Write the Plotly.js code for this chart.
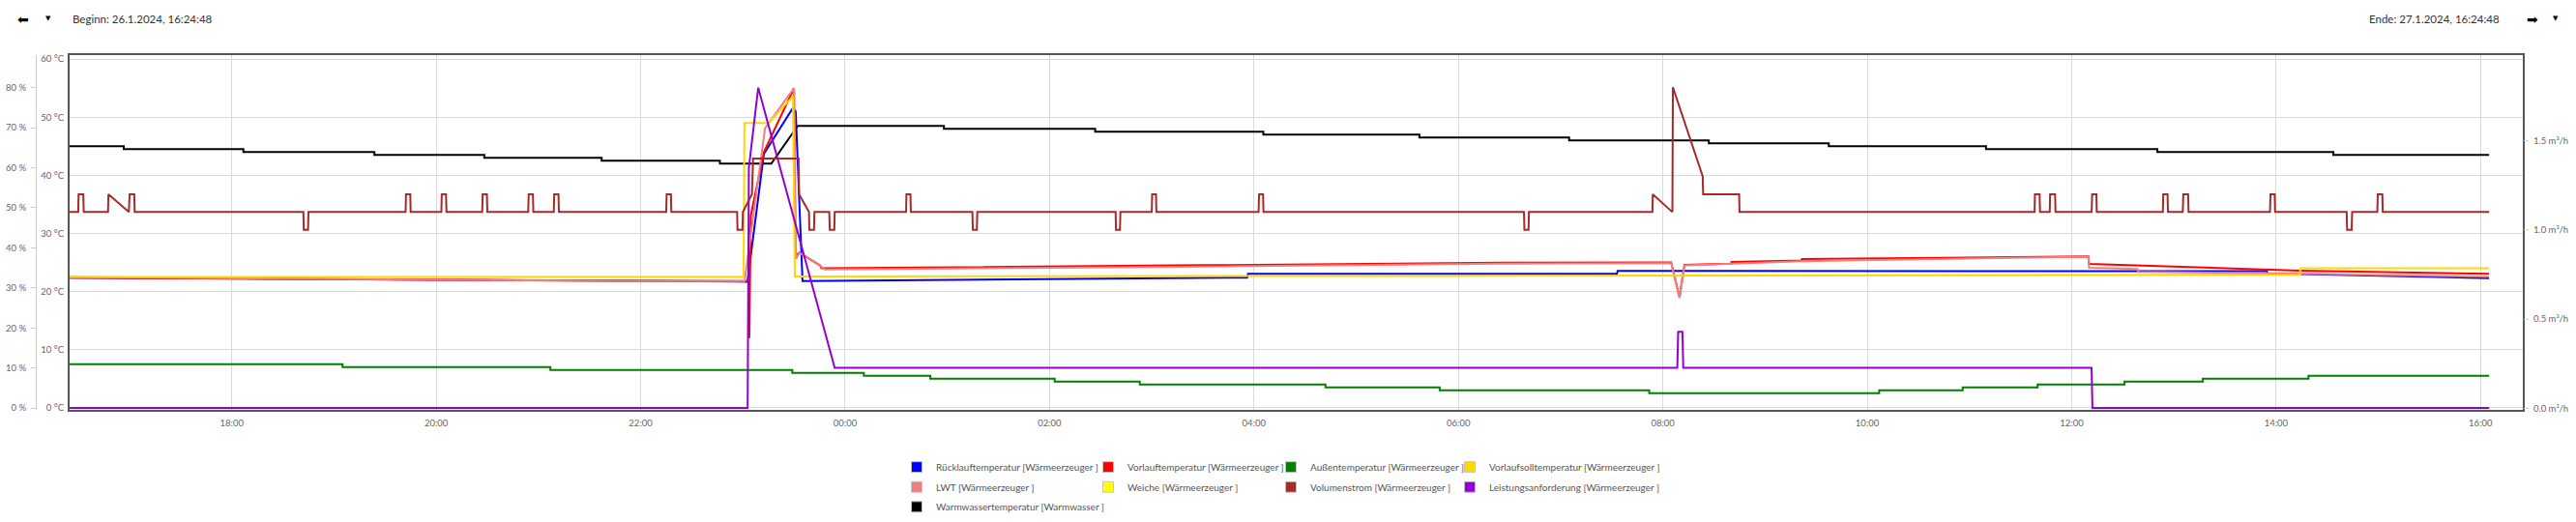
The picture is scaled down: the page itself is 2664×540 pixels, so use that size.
<!DOCTYPE html>
<html><head><meta charset="utf-8">
<script src="https://cdn.plot.ly/plotly-3.0.1.min.js"></script>
<style>html,body{margin:0;padding:0;background:#fff}#chart{width:2664px;height:540px}</style>
</head><body><div id="chart"></div>
<script>
// ---- time window and labels ----
const rangeStart = '2024-01-26 16:24:48';
const rangeEnd = '2024-01-27 16:24:48';
const beginLabel = 'Beginn: 26.1.2024, 16:24:48';
const endLabel = 'Ende: 27.1.2024, 16:24:48';

// ---- series names and colours ----
const nameRueck = 'Rücklauftemperatur [Wärmeerzeuger ]';
const nameVorlauf = 'Vorlauftemperatur [Wärmeerzeuger ]';
const nameAussen = 'Außentemperatur [Wärmeerzeuger ]';
const nameSoll = 'Vorlaufsolltemperatur [Wärmeerzeuger ]';
const nameLWT = 'LWT [Wärmeerzeuger ]';
const nameWeiche = 'Weiche [Wärmeerzeuger ]';
const nameVolumen = 'Volumenstrom [Wärmeerzeuger ]';
const nameLeistung = 'Leistungsanforderung [Wärmeerzeuger ]';
const nameWarmwasser = 'Warmwassertemperatur [Warmwasser ]';

const colorOf = {};
colorOf[nameRueck] = '#0000FF';
colorOf[nameVorlauf] = '#FF0000';
colorOf[nameAussen] = '#008000';
colorOf[nameSoll] = '#FFD700';
colorOf[nameLWT] = '#F08080';
colorOf[nameWeiche] = '#FFFF00';
colorOf[nameVolumen] = '#A52A2A';
colorOf[nameLeistung] = '#9400D3';
colorOf[nameWarmwasser] = '#000000';

// legend columns (as laid out in the reference)
const legendColumns = [
  [nameRueck, nameLWT, nameWarmwasser],
  [nameVorlauf, nameWeiche],
  [nameAussen, nameVolumen],
  [nameSoll, nameLeistung]
];

// ---- data: [day hh:mm:ss, value] ----
const ruecklauf = [
  ['26 16:24:48', 22.4], ['26 20:00:00', 22.0], ['26 23:02:40', 21.7],
  ['26 23:12:20', 43.7], ['26 23:29:20', 51.6], ['26 23:31:00', 51.0],
  ['26 23:35:00', 21.8], ['27 03:56:00', 22.4], ['27 03:56:30', 23.05],
  ['27 07:33:00', 23.05], ['27 07:33:30', 23.55], ['27 13:54:30', 23.5],
  ['27 13:55:00', 23.15], ['27 16:05:00', 22.3]
];
const vorlauf = [
  ['26 16:24:48', 22.4], ['26 20:00:00', 22.0], ['26 23:03:20', 21.8],
  ['26 23:03:48', 12.0], ['26 23:04:36', 33.0], ['26 23:12:20', 44.0],
  ['26 23:30:00', 55.0], ['26 23:30:50', 26.1], ['26 23:33:06', 26.7],
  ['26 23:45:15', 24.5], ['26 23:46:10', 24.0], ['27 03:00:00', 24.5],
  ['27 06:24:00', 24.95], ['27 08:04:54', 25.0], ['27 08:09:48', 19.0],
  ['27 08:12:40', 24.6], ['27 08:40:00', 24.8], ['27 08:40:20', 25.1],
  ['27 09:21:20', 25.35], ['27 09:21:40', 25.6], ['27 12:09:50', 26.05],
  ['27 12:10:10', 24.75], ['27 14:14:00', 23.6], ['27 16:05:00', 23.05]
];
const lwt = [
  ['26 16:24:48', 22.5], ['26 18:00:00', 22.3], ['26 20:00:00', 22.0],
  ['26 22:00:00', 21.8], ['26 23:01:00', 21.8], ['26 23:13:00', 48.1],
  ['26 23:30:00', 55.0], ['26 23:31:12', 25.6], ['26 23:33:06', 26.7],
  ['26 23:45:15', 24.5], ['26 23:48:00', 23.8], ['27 03:00:00', 24.2],
  ['27 06:24:00', 24.8], ['27 08:04:54', 24.9], ['27 08:09:48', 18.9],
  ['27 08:12:40', 24.5], ['27 09:21:30', 25.2], ['27 12:09:50', 26.0],
  ['27 12:10:10', 24.1], ['27 12:38:40', 23.9], ['27 12:39:00', 23.4],
  ['27 14:14:00', 23.1], ['27 16:05:00', 22.55]
];
const vorlaufsoll = [
  ['26 16:24:48', 22.5], ['26 23:00:24', 22.5], ['26 23:00:54', 49.0],
  ['26 23:15:06', 49.0], ['26 23:29:20', 53.6], ['26 23:30:30', 22.6],
  ['27 06:00:00', 22.7], ['27 14:14:00', 22.9], ['27 14:14:20', 24.0],
  ['27 16:05:00', 24.0]
];
const weiche = [];
const aussen = [ // step values
  ['26 16:24:48', 7.5], ['26 19:05:00', 7.0], ['26 21:07:00', 6.5],
  ['26 23:29:00', 6.0], ['27 00:11:00', 5.5], ['27 00:50:00', 5.0],
  ['27 02:03:00', 4.5], ['27 02:53:00', 4.0], ['27 04:42:00', 3.5],
  ['27 05:49:00', 3.0], ['27 07:52:00', 2.5], ['27 10:07:00', 3.0],
  ['27 10:56:00', 3.5], ['27 11:40:00', 4.0], ['27 12:31:00', 4.5],
  ['27 13:17:00', 5.0], ['27 14:19:00', 5.5], ['27 16:05:00', 5.5]
];
const warmwasser = [
  ['26 16:24:48', 45.0], ['26 16:56:36', 45.0], ['26 16:56:36', 44.5],
  ['26 18:06:48', 44.5], ['26 18:06:48', 44.0], ['26 19:23:42', 44.0],
  ['26 19:23:42', 43.5], ['26 20:28:12', 43.5], ['26 20:28:12', 43.0],
  ['26 21:37:06', 43.0], ['26 21:37:06', 42.5], ['26 22:46:30', 42.5],
  ['26 22:46:30', 42.0], ['26 23:16:40', 42.0], ['26 23:32:12', 48.5],
  ['27 00:58:00', 48.5], ['27 00:58:00', 48.0], ['27 02:26:48', 48.0],
  ['27 02:26:48', 47.5], ['27 04:05:30', 47.5], ['27 04:05:30', 47.0],
  ['27 05:37:06', 47.0], ['27 05:37:06', 46.5], ['27 07:05:00', 46.5],
  ['27 07:05:00', 46.0], ['27 08:27:00', 46.0], ['27 08:27:00', 45.5],
  ['27 09:37:24', 45.5], ['27 09:37:24', 45.0], ['27 11:09:42', 45.0],
  ['27 11:09:42', 44.5], ['27 12:50:18', 44.5], ['27 12:50:18', 44.0],
  ['27 14:33:36', 44.0], ['27 14:33:36', 43.5], ['27 16:05:00', 43.5]
];
const leistung = [
  ['26 16:24:48', 0], ['26 23:02:48', 0], ['26 23:03:30', 60],
  ['26 23:09:00', 80], ['26 23:53:54', 10], ['27 08:08:30', 10],
  ['27 08:09:00', 19], ['27 08:11:30', 19], ['27 08:12:00', 10],
  ['27 12:11:40', 10], ['27 12:12:10', 0], ['27 16:05:00', 0]
];
const volumenstrom = [
  ['26 16:24:48', 1.1],
  ['26 16:29:50', 1.1], ['26 16:30:05', 1.2], ['26 16:32:50', 1.2], ['26 16:33:05', 1.1],
  ['26 16:47:20', 1.1], ['26 16:47:35', 1.2], ['26 16:59:35', 1.1], ['26 17:00:00', 1.2], ['26 17:02:45', 1.2], ['26 17:03:00', 1.1],
  ['26 18:42:00', 1.1], ['26 18:42:15', 1.0], ['26 18:44:45', 1.0], ['26 18:45:00', 1.1],
  ['26 19:42:00', 1.1], ['26 19:42:15', 1.2], ['26 19:44:45', 1.2], ['26 19:45:00', 1.1],
  ['26 20:03:00', 1.1], ['26 20:03:15', 1.2], ['26 20:05:45', 1.2], ['26 20:06:00', 1.1],
  ['26 20:27:00', 1.1], ['26 20:27:15', 1.2], ['26 20:29:45', 1.2], ['26 20:30:00', 1.1],
  ['26 20:54:00', 1.1], ['26 20:54:15', 1.2], ['26 20:56:45', 1.2], ['26 20:57:00', 1.1],
  ['26 21:09:00', 1.1], ['26 21:09:15', 1.2], ['26 21:11:45', 1.2], ['26 21:12:00', 1.1],
  ['26 22:15:00', 1.1], ['26 22:15:15', 1.2], ['26 22:17:45', 1.2], ['26 22:18:00', 1.1],
  ['26 22:56:36', 1.1], ['26 22:56:50', 1.0], ['26 22:59:45', 1.0], ['26 23:00:00', 1.1],
  ['26 23:05:18', 1.2], ['26 23:06:00', 1.4], ['26 23:32:42', 1.4], ['26 23:33:00', 1.2],
  ['26 23:38:48', 1.1], ['26 23:39:00', 1.0], ['26 23:41:45', 1.0], ['26 23:42:00', 1.1],
  ['26 23:50:42', 1.1], ['26 23:51:00', 1.0], ['26 23:53:40', 1.0], ['26 23:53:54', 1.1],
  ['27 00:35:48', 1.1], ['27 00:36:00', 1.2], ['27 00:38:20', 1.2], ['27 00:38:36', 1.1],
  ['27 01:14:42', 1.1], ['27 01:15:00', 1.0], ['27 01:17:20', 1.0], ['27 01:17:36', 1.1],
  ['27 02:38:48', 1.1], ['27 02:39:00', 1.0], ['27 02:41:20', 1.0], ['27 02:41:36', 1.1],
  ['27 03:00:00', 1.1], ['27 03:00:15', 1.2], ['27 03:02:30', 1.2], ['27 03:02:42', 1.1],
  ['27 04:02:42', 1.1], ['27 04:03:00', 1.2], ['27 04:05:20', 1.2], ['27 04:05:36', 1.1],
  ['27 06:38:30', 1.1], ['27 06:38:45', 1.0], ['27 06:41:10', 1.0], ['27 06:41:24', 1.1],
  ['27 07:53:54', 1.1], ['27 07:54:06', 1.2], ['27 08:05:36', 1.1], ['27 08:05:54', 1.8],
  ['27 08:23:24', 1.3], ['27 08:23:40', 1.2], ['27 08:44:48', 1.2], ['27 08:45:00', 1.1],
  ['27 11:38:12', 1.1], ['27 11:38:25', 1.2], ['27 11:41:10', 1.2], ['27 11:41:24', 1.1],
  ['27 11:47:06', 1.1], ['27 11:47:20', 1.2], ['27 11:50:15', 1.2], ['27 11:50:30', 1.1],
  ['27 12:11:42', 1.1], ['27 12:12:00', 1.2], ['27 12:14:30', 1.2], ['27 12:14:42', 1.1],
  ['27 12:53:30', 1.1], ['27 12:53:45', 1.2], ['27 12:56:15', 1.2], ['27 12:56:30', 1.1],
  ['27 13:05:12', 1.1], ['27 13:05:30', 1.2], ['27 13:08:20', 1.2], ['27 13:08:36', 1.1],
  ['27 13:56:24', 1.1], ['27 13:56:40', 1.2], ['27 13:59:10', 1.2], ['27 13:59:24', 1.1],
  ['27 14:41:24', 1.1], ['27 14:41:40', 1.0], ['27 14:44:20', 1.0], ['27 14:44:36', 1.1],
  ['27 14:59:24', 1.1], ['27 14:59:40', 1.2], ['27 15:02:20', 1.2], ['27 15:02:36', 1.1],
  ['27 16:05:00', 1.1]
];

// ---- axis tick settings ----
const tempTickSuffix = ' °C';
const pctTickSuffix = ' %';
const flowTickSuffix = ' m³/h';

// ---- build traces ----
const toX = pairs => pairs.map(p => '2024-01-' + p[0]);
const toY = pairs => pairs.map(p => p[1]);
function line(name, pairs, axis, shape) {
  return {
    type: 'scatter', mode: 'lines', name: name,
    x: toX(pairs), y: toY(pairs), yaxis: axis,
    line: {color: colorOf[name], width: 2, shape: shape || 'linear'},
    showlegend: false, hoverinfo: 'skip'
  };
}
const traces = [
  line(nameWarmwasser, warmwasser, 'y'),
  line(nameVolumen, volumenstrom, 'y3'),
  line(nameAussen, aussen, 'y', 'hv'),
  line(nameWeiche, weiche, 'y'),
  line(nameRueck, ruecklauf, 'y'),
  line(nameVorlauf, vorlauf, 'y'),
  line(nameLWT, lwt, 'y'),
  line(nameSoll, vorlaufsoll, 'y'),
  line(nameLeistung, leistung, 'y2')
];
const legendIds = ['legend', 'legend2', 'legend3', 'legend4'];
legendColumns.forEach((col, ci) => {
  col.forEach(name => {
    traces.push({
      type: 'scatter', mode: 'markers', name: name,
      x: [null], y: [null], legend: legendIds[ci], legendgroup: name,
      marker: {symbol: 'square', size: 11, color: colorOf[name], line: {color: '#c4c4c4', width: 1}},
      showlegend: true, hoverinfo: 'skip'
    });
  });
});

const W = 2664, H = 540, plotL = 72, plotR = 2609, plotT = 57, plotB = 427;
const px2x = px => px / W;
const py2y = py => (plotB - py) / (plotB - plotT);

const font = 'Lato, "Open Sans", "DejaVu Sans", sans-serif';
const legendBase = {
  orientation: 'v', xanchor: 'left', yanchor: 'top', y: py2y(472),
  bgcolor: 'rgba(0,0,0,0)', borderwidth: 0, tracegroupgap: 1.6,
  font: {family: font, size: 10, color: '#555'}
};
const legendBoxX = [928, 1126, 1315, 1500];

const layout = {
  width: W, height: H,
  margin: {l: 0, r: 0, t: plotT, b: H - plotB, pad: 0},
  paper_bgcolor: '#ffffff', plot_bgcolor: '#ffffff',
  font: {family: font, size: 10, color: '#666'},
  xaxis: {
    type: 'date', domain: [plotL / W, plotR / W],
    range: [rangeStart, rangeEnd],
    tick0: '2024-01-26 00:00:00', dtick: 2 * 3600 * 1000, tickformat: '%H:%M',
    showgrid: true, gridcolor: '#d9d9d9', gridwidth: 1,
    showline: true, mirror: true, linecolor: '#555', linewidth: 2,
    ticks: '', ticklabelstandoff: 4, zeroline: false,
    tickfont: {family: font, size: 9.5, color: '#666'}
  },
  yaxis: {
    range: [-0.36, 60.69], dtick: 10, tick0: 0, ticksuffix: tempTickSuffix,
    showgrid: true, gridcolor: '#d9d9d9', gridwidth: 1, zeroline: false,
    showline: true, mirror: true, linecolor: '#555', linewidth: 2,
    ticks: '', ticklabelstandoff: 2,
    tickfont: {family: font, size: 9.5, color: '#666'}
  },
  yaxis2: {
    overlaying: 'y', anchor: 'free', position: 37 / W, side: 'left',
    range: [-0.48, 88.14], dtick: 10, tick0: 0, ticksuffix: pctTickSuffix,
    showgrid: false, zeroline: false,
    showline: true, linecolor: '#cccccc', linewidth: 1,
    ticks: 'outside', ticklen: 5, tickcolor: '#cccccc', ticklabelstandoff: 3,
    tickfont: {family: font, size: 9.5, color: '#666'}
  },
  yaxis3: {
    overlaying: 'y', anchor: 'x', side: 'right',
    range: [-0.009, 1.980], dtick: 0.5, tick0: 0, tickformat: '.1f', ticksuffix: flowTickSuffix,
    showgrid: false, zeroline: false, showline: false,
    ticks: 'outside', ticklen: 5, tickcolor: '#cccccc', ticklabelstandoff: 3,
    tickfont: {family: font, size: 9.5, color: '#666'}
  },
  annotations: [
    {xref: 'paper', yref: 'paper', x: px2x(24), y: py2y(19.5), text: '⬅', showarrow: false,
     xanchor: 'center', yanchor: 'middle', font: {family: 'DejaVu Sans', size: 14, color: '#000'}},
    {xref: 'paper', yref: 'paper', x: px2x(50), y: py2y(19), text: '▼', showarrow: false,
     xanchor: 'center', yanchor: 'middle', font: {family: 'DejaVu Sans', size: 7, color: '#000'}},
    {xref: 'paper', yref: 'paper', x: px2x(73), y: py2y(19.5), text: beginLabel, showarrow: false,
     xanchor: 'left', yanchor: 'middle', font: {family: font, size: 11.5, color: '#333'}},
    {xref: 'paper', yref: 'paper', x: px2x(2587), y: py2y(19.5), text: endLabel, showarrow: false,
     xanchor: 'right', yanchor: 'middle', font: {family: font, size: 11.5, color: '#333'}},
    {xref: 'paper', yref: 'paper', x: px2x(2619), y: py2y(19.5), text: '➡', showarrow: false,
     xanchor: 'center', yanchor: 'middle', font: {family: 'DejaVu Sans', size: 14, color: '#000'}},
    {xref: 'paper', yref: 'paper', x: px2x(2643), y: py2y(19), text: '▼', showarrow: false,
     xanchor: 'center', yanchor: 'middle', font: {family: 'DejaVu Sans', size: 7, color: '#000'}}
  ]
};
legendIds.forEach((id, i) => {
  layout[id] = Object.assign({}, legendBase, {x: px2x(legendBoxX[i])});
});

Plotly.newPlot('chart', traces, layout, {displayModeBar: false, staticPlot: true});
</script>
</body></html>
